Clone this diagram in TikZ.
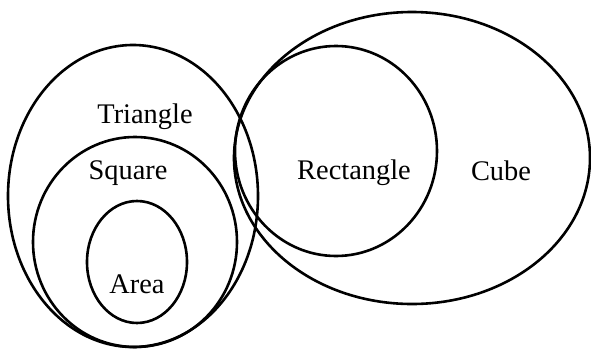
\documentclass[tikz,border=0pt]{standalone}
\usepackage{fontspec}
\setmainfont{Liberation Serif}
\usetikzlibrary{positioning}

\begin{document}
\begin{tikzpicture}[x=0.5pt, y=-0.5pt, line width=1.3pt,
  every node/.style={font=\fontsize{14.2}{16}\selectfont, inner sep=1pt}]

\useasboundingbox (0,0) rectangle (591,349);

% left set
\draw (133,196) ellipse [x radius=125, y radius=151];
\draw (135,242) ellipse [x radius=102, y radius=105];
\draw (137,262) ellipse [x radius=50, y radius=61];

% right set
\draw (412,158) ellipse [x radius=178, y radius=146];
\draw (336,151) ellipse [x radius=101, y radius=105];

% labels
\node (triangle) at (145,117) {Triangle};
\node (square) at (128,173) {Square};
\node (area) at (137,284) {Area};
\node (rectangle) at (354,173) {Rectangle};
\node (cube) at (501,171) {Cube};

\end{tikzpicture}
\end{document}
